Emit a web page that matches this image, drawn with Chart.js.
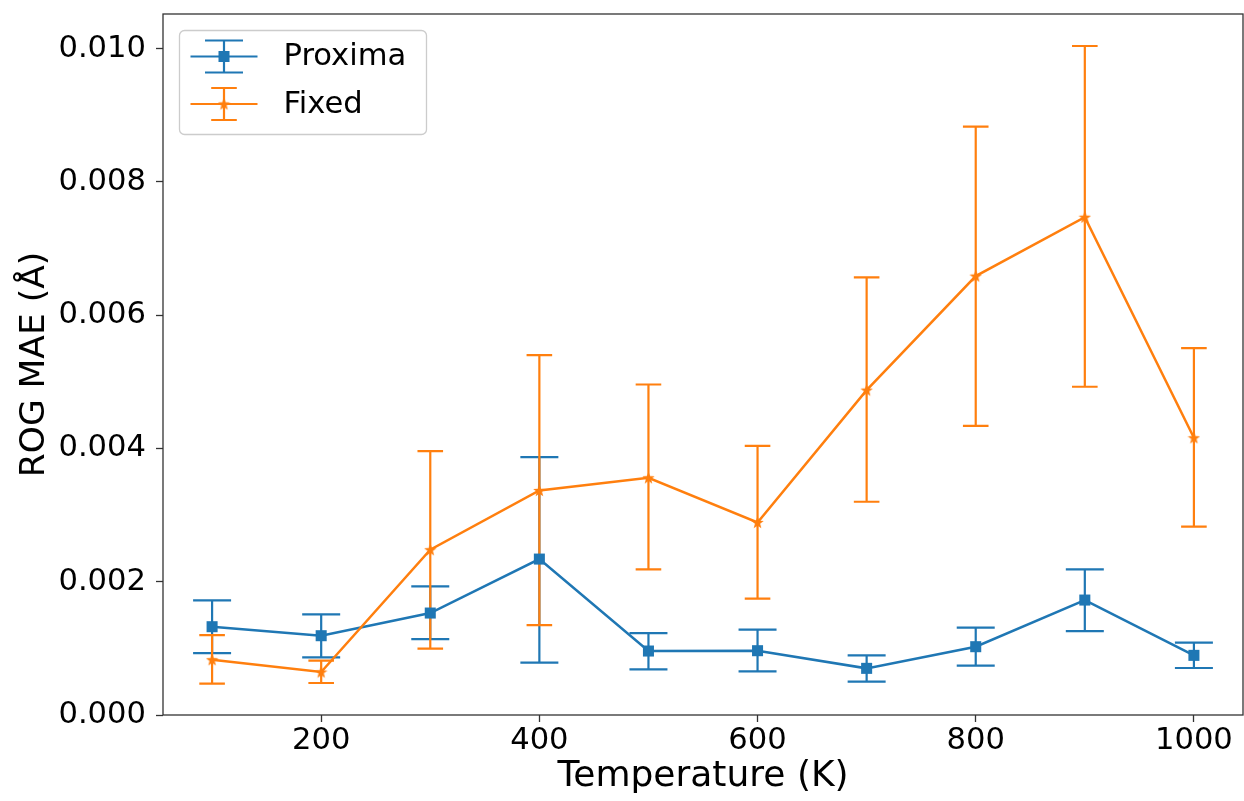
<!DOCTYPE html>
<html>
<head>
<meta charset="utf-8">
<script src="https://cdn.jsdelivr.net/npm/chart.js@4.4.0/dist/chart.umd.min.js"></script>
<style>
  html, body { margin: 0; padding: 0; background: #fff; }
  #wrap { width: 1244px; height: 801px; }
</style>
</head>
<body>
<div id="wrap"><canvas id="grafica" width="1244" height="801"></canvas></div>
<script>
// Temperaturas (K)
const temperaturas = [100, 200, 300, 400, 500, 600, 700, 800, 900, 1000];

// Proxima: valor medio y extremos de la barra de error
const proximaMedia = [0.001325, 0.00119, 0.00153, 0.00234, 0.00096, 0.000965, 0.0007, 0.001025, 0.001725, 0.000895];
const proximaBajo  = [0.00093, 0.000866, 0.00114, 0.000785, 0.000686, 0.000656, 0.0005, 0.00074, 0.00126, 0.000705];
const proximaAlto  = [0.00172, 0.00151, 0.00193, 0.00387, 0.00123, 0.00128, 0.000896, 0.00131, 0.002186, 0.001085];

// Fixed: valor medio y extremos de la barra de error
const fixedMedia = [0.00083, 0.000645, 0.00248, 0.00337, 0.00356, 0.00289, 0.004876, 0.006587, 0.00747, 0.00416];
const fixedBajo  = [0.00047, 0.00048, 0.000995, 0.00135, 0.002186, 0.001745, 0.0032, 0.00434, 0.004926, 0.002826];
const fixedAlto  = [0.0012, 0.000815, 0.00396, 0.0054, 0.00496, 0.00404, 0.006567, 0.00883, 0.01004, 0.005506];

// Marcas de los ejes
const ticksX = [200, 400, 600, 800, 1000];
const ticksY = [0, 0.002, 0.004, 0.006, 0.008, 0.010];

const AZUL = '#1f77b4';
const NARANJA = '#ff7f0e';
const FUENTE = "'DejaVu Sans', sans-serif";

// Estrella rellena de cinco puntas (marcador '*' de matplotlib)
function crearEstrella(tam, color) {
    const c = document.createElement('canvas');
    c.width = tam; c.height = tam;
    const g = c.getContext('2d');
    const r = tam / 2, ri = r * 0.42;
    g.beginPath();
    for (let k = 0; k < 10; k++) {
        const rad = k % 2 === 0 ? r : ri;
        const ang = -Math.PI / 2 + k * Math.PI / 5;
        const px = r + rad * Math.cos(ang);
        const py = r + 0.5 + rad * Math.sin(ang);
        if (k === 0) g.moveTo(px, py); else g.lineTo(px, py);
    }
    g.closePath();
    g.fillStyle = color;
    g.fill();
    return c;
}
const estrella = crearEstrella(13, NARANJA);

function puntos(medias) {
    return temperaturas.map((t, i) => ({ x: t, y: medias[i] }));
}

// Barras de error, dibujadas antes de las líneas
const barrasError = {
    id: 'barrasError',
    beforeDatasetsDraw(chart) {
        const { ctx, scales: { x, y } } = chart;
        chart.data.datasets.forEach(ds => {
            ctx.save();
            ctx.strokeStyle = ds.borderColor;
            ctx.lineWidth = 2.2;
            ds.data.forEach((p, i) => {
                const px = x.getPixelForValue(p.x);
                const y1 = y.getPixelForValue(ds.bajo[i]);
                const y2 = y.getPixelForValue(ds.alto[i]);
                ctx.beginPath();
                ctx.moveTo(px, y1); ctx.lineTo(px, y2);
                ctx.moveTo(px - ds.tapa, y1); ctx.lineTo(px + ds.tapa, y1);
                ctx.moveTo(px - ds.tapa, y2); ctx.lineTo(px + ds.tapa, y2);
                ctx.stroke();
            });
            ctx.restore();
        });
    }
};

// Marco completo alrededor del área del gráfico
const marco = {
    id: 'marco',
    afterDatasetsDraw(chart) {
        const { ctx, chartArea: a } = chart;
        ctx.save();
        ctx.strokeStyle = '#333';
        ctx.lineWidth = 1.3;
        ctx.strokeRect(a.left, a.top, a.right - a.left, a.bottom - a.top);
        ctx.restore();
    }
};

// Leyenda al estilo matplotlib con barra de error en el icono
const leyenda = {
    id: 'leyenda',
    afterDraw(chart) {
        const ctx = chart.ctx;
        const a = chart.chartArea;
        const x0 = a.left + 16.5, y0 = a.top + 16.5;
        ctx.save();
        ctx.beginPath();
        if (ctx.roundRect) ctx.roundRect(x0, y0, 247, 104, 5);
        else ctx.rect(x0, y0, 247, 104);
        ctx.fillStyle = 'rgba(255,255,255,0.8)';
        ctx.fill();
        ctx.strokeStyle = '#cccccc';
        ctx.lineWidth = 1.3;
        ctx.stroke();
        chart.data.datasets.forEach((ds, i) => {
            const cy = y0 + 26 + i * 47.5;
            const cx = x0 + 44.5;
            ctx.strokeStyle = ds.borderColor;
            ctx.lineWidth = 2.2;
            ctx.beginPath();
            ctx.moveTo(x0 + 11, cy); ctx.lineTo(x0 + 78, cy);
            ctx.moveTo(cx, cy - 16); ctx.lineTo(cx, cy + 16);
            ctx.moveTo(cx - ds.tapa, cy - 16); ctx.lineTo(cx + ds.tapa, cy - 16);
            ctx.moveTo(cx - ds.tapa, cy + 16); ctx.lineTo(cx + ds.tapa, cy + 16);
            ctx.stroke();
            if (ds.pointStyle === 'rect') {
                ctx.fillStyle = ds.borderColor;
                ctx.fillRect(cx - 5.5, cy - 5.5, 11, 11);
            } else {
                ctx.drawImage(ds.pointStyle, cx - 6.5, cy - 6.5);
            }
            ctx.fillStyle = '#000';
            ctx.font = '30.6px ' + FUENTE;
            ctx.textBaseline = 'middle';
            ctx.fillText(ds.label, x0 + 104, cy + 1);
        });
        ctx.restore();
    }
};

const ctx = document.getElementById('grafica').getContext('2d');
new Chart(ctx, {
    type: 'line',
    data: {
        datasets: [
            {
                label: 'Proxima',
                data: puntos(proximaMedia),
                bajo: proximaBajo,
                alto: proximaAlto,
                tapa: 19,
                borderColor: AZUL,
                backgroundColor: AZUL,
                borderWidth: 2.5,
                pointStyle: 'rect',
                pointRadius: 7.8,
                pointBorderWidth: 0,
                pointHoverRadius: 7.8,
                tension: 0,
                order: 1
            },
            {
                label: 'Fixed',
                data: puntos(fixedMedia),
                bajo: fixedBajo,
                alto: fixedAlto,
                tapa: 12.8,
                borderColor: NARANJA,
                backgroundColor: NARANJA,
                borderWidth: 2.5,
                pointStyle: estrella,
                pointRadius: 6,
                tension: 0,
                order: 0
            }
        ]
    },
    plugins: [barrasError, marco, leyenda],
    options: {
        responsive: false,
        devicePixelRatio: 1,
        animation: false,
        layout: { autoPadding: false, padding: { top: 14, right: 1, left: 0, bottom: 0 } },
        plugins: { legend: { display: false }, tooltip: { enabled: false } },
        scales: {
            x: {
                type: 'linear',
                min: 55,
                max: 1045,
                afterBuildTicks: s => { s.ticks = ticksX.map(v => ({ value: v })); },
                afterFit: s => { s.height = 86; s.paddingLeft = 0; s.paddingRight = 0; },
                border: { display: false },
                grid: { drawOnChartArea: false, tickLength: 7, tickColor: '#333', tickWidth: 1.3 },
                ticks: { font: { family: FUENTE, size: 30.6 }, color: '#000', padding: 1, maxRotation: 0, callback: v => String(v) },
                title: { display: true, text: 'Temperature (K)', color: '#000', font: { family: FUENTE, size: 36 }, padding: { top: 0, bottom: 3 } }
            },
            y: {
                min: 0,
                max: 0.01052,
                afterBuildTicks: s => { s.ticks = ticksY.map(v => ({ value: v })); },
                afterFit: s => { s.width = 163; s.paddingTop = 0; s.paddingBottom = 0; },
                border: { display: false },
                grid: { drawOnChartArea: false, tickLength: 7, tickColor: '#333', tickWidth: 1.3 },
                ticks: { font: { family: FUENTE, size: 30.6 }, color: '#000', padding: 10, callback: v => v.toFixed(3) },
                title: { display: true, text: 'ROG MAE (Å)', color: '#000', font: { family: FUENTE, size: 34.5 }, padding: { top: 14, bottom: 0 } }
            }
        }
    }
});
</script>
</body>
</html>
